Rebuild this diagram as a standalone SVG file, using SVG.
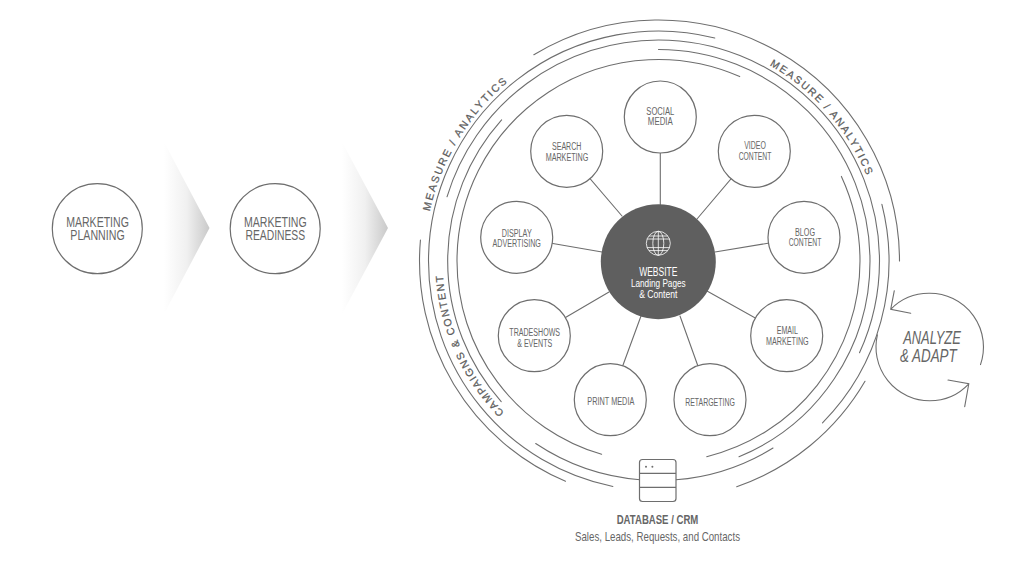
<svg xmlns="http://www.w3.org/2000/svg" width="1024" height="576" viewBox="0 0 1024 576">
<style>
text{font-family:"Liberation Sans",Arial,sans-serif;fill:#666;text-anchor:middle}
.n{fill:#fff;stroke:#6e6e6e;stroke-width:1.2}
.a{fill:none;stroke:#6e6e6e;stroke-width:1.1;stroke-linecap:round}
.s{font-size:11.5px}
.b{font-size:15px}
.c{font-size:10.5px;fill:#5c5c5c;stroke:#5c5c5c;stroke-width:.25;text-anchor:start}
.m{letter-spacing:1.95px}
.r{letter-spacing:1.75px}
.k{letter-spacing:1.5px}
.w{fill:#fff}
.g{fill:none;stroke:#fff;stroke-width:.8}
</style>
<defs>
<linearGradient id="fade" x1="0" y1="0" x2="1" y2="0"><stop offset="0" stop-color="#fff"/><stop offset=".5" stop-color="#f0f0f0"/><stop offset="1" stop-color="#c9c9c9"/></linearGradient>
<path id="p1" d="M424.5 261A234 234 0 0 1 658.5 27"/>
<path id="p2" d="M658.5 36A225 225 0 0 1 883.5 261"/>
<path id="p3" d="M658.5 477A216 216 0 0 1 442.5 261"/>
</defs>
<rect width="1024" height="576" fill="#fff"/>
<g id="chevrons">
<polygon points="164,142 209.5,228 164,314" fill="url(#fade)"/>
<polygon points="342,142 388,228 342,314" fill="url(#fade)"/>
</g>
<g id="connectors" class="a">
<path d="M533.85 54.75A241 241 0 0 1 899.5 261"/>
<path d="M714.75 38A230 230 0 0 0 428.5 261A230 230 0 0 0 612.9 486.45"/>
<path d="M420.44 240.04A239 239 0 0 0 565.5 481.2"/>
<path d="M501.6 119.9A211.5 211.5 0 0 0 501.2 401.6"/>
<path d="M739.7 76.6A201.5 201.5 0 0 0 457 261A201.5 201.5 0 0 0 601.6 454.3"/>
<path d="M447 196.8A221 221 0 0 1 658.5 40A221 221 0 0 1 879.5 261A221 221 0 0 1 859.5 352.8"/>
<path d="M658.5 49.5A211.5 211.5 0 0 1 870 261A211.5 211.5 0 0 1 739 456.7"/>
<path d="M841.4 176.4A201.5 201.5 0 0 1 860 261A201.5 201.5 0 0 1 706.7 456.7"/>
<path d="M881.9 204.4A230.5 230.5 0 0 1 822.5 422.9"/>
<path d="M865 381.3A239 239 0 0 1 736.7 486.7"/>
<path d="M535.7 443.5A219.5 219.5 0 0 0 640 479.7"/>
<path d="M676 479.8A219.5 219.5 0 0 0 773 448"/>
<path d="M660.3 117V205M566.7 151.3L622 216M516.7 237.3L602 252M754.3 151.3L697 219M804 237.3L715 252M534.3 335.7L609 292M610.3 399.7L641 316M786.7 335.7L707 291M710 399.7L680 316"/>
</g>
<g id="marketing-planning"><circle class="n" cx="97.3" cy="228.7" r="45"/><text class="b" transform="translate(97.5 226.7) scale(.7 1)" textLength="89.6" lengthAdjust="spacingAndGlyphs">MARKETING</text><text class="b" transform="translate(97.5 240) scale(.7 1)" textLength="77.6" lengthAdjust="spacingAndGlyphs">PLANNING</text></g>
<g id="marketing-readiness"><circle class="n" cx="275.2" cy="228.7" r="45"/><text class="b" transform="translate(275.3 226.7) scale(.7 1)" textLength="89.6" lengthAdjust="spacingAndGlyphs">MARKETING</text><text class="b" transform="translate(275.3 240) scale(.7 1)" textLength="85.3" lengthAdjust="spacingAndGlyphs">READINESS</text></g>
<g id="social"><circle class="n" cx="660.3" cy="117" r="36"/><text class="s" transform="translate(660.3 114.5) scale(.64 1)" textLength="43.8" lengthAdjust="spacingAndGlyphs">SOCIAL</text><text class="s" transform="translate(660.3 125.2) scale(.64 1)" textLength="39" lengthAdjust="spacingAndGlyphs">MEDIA</text></g>
<g id="search"><circle class="n" cx="566.7" cy="151.3" r="36"/><text class="s" transform="translate(566.7 150) scale(.64 1)" textLength="45.8" lengthAdjust="spacingAndGlyphs">SEARCH</text><text class="s" transform="translate(567 160.7) scale(.64 1)" textLength="66.7" lengthAdjust="spacingAndGlyphs">MARKETING</text></g>
<g id="video"><circle class="n" cx="754.3" cy="151.3" r="36"/><text class="s" transform="translate(755 149) scale(.64 1)" textLength="33.9" lengthAdjust="spacingAndGlyphs">VIDEO</text><text class="s" transform="translate(755 159.7) scale(.64 1)" textLength="51.1" lengthAdjust="spacingAndGlyphs">CONTENT</text></g>
<g id="display"><circle class="n" cx="516.7" cy="237.3" r="36"/><text class="s" transform="translate(516.7 236.7) scale(.64 1)" textLength="46.9" lengthAdjust="spacingAndGlyphs">DISPLAY</text><text class="s" transform="translate(516.7 247.3) scale(.64 1)" textLength="75.5" lengthAdjust="spacingAndGlyphs">ADVERTISING</text></g>
<g id="blog"><circle class="n" cx="804" cy="237.3" r="36"/><text class="s" transform="translate(805 235.7) scale(.64 1)" textLength="31.3" lengthAdjust="spacingAndGlyphs">BLOG</text><text class="s" transform="translate(805 246.3) scale(.64 1)" textLength="51.1" lengthAdjust="spacingAndGlyphs">CONTENT</text></g>
<g id="tradeshows"><circle class="n" cx="534.3" cy="335.7" r="36"/><text class="s" transform="translate(534.7 336) scale(.64 1)" textLength="79.2" lengthAdjust="spacingAndGlyphs">TRADESHOWS</text><text class="s" transform="translate(534.7 347) scale(.64 1)" textLength="54.7" lengthAdjust="spacingAndGlyphs">&amp; EVENTS</text></g>
<g id="email"><circle class="n" cx="786.7" cy="335.7" r="36"/><text class="s" transform="translate(787.3 334) scale(.64 1)" textLength="33.3" lengthAdjust="spacingAndGlyphs">EMAIL</text><text class="s" transform="translate(787.3 344.7) scale(.64 1)" textLength="66.7" lengthAdjust="spacingAndGlyphs">MARKETING</text></g>
<g id="print"><circle class="n" cx="610.3" cy="399.7" r="36"/><text class="s" transform="translate(610.8 405.3) scale(.64 1)" textLength="73.4" lengthAdjust="spacingAndGlyphs">PRINT MEDIA</text></g>
<g id="retargeting"><circle class="n" cx="710" cy="399.7" r="36"/><text class="s" transform="translate(710 406) scale(.64 1)" textLength="77.7" lengthAdjust="spacingAndGlyphs">RETARGETING</text></g>
<g id="website">
<circle cx="658.3" cy="261.7" r="57.5" fill="#5f5f5f"/>
<g class="g"><circle cx="658.3" cy="243.3" r="12"/><ellipse cx="658.3" cy="243.3" rx="5.5" ry="12"/><path d="M658.3 231.3V255.3M647 239H669.6M647 247.6H669.6M649 236H667.6M649 250.6H667.6"/></g>
<text class="w" transform="translate(658.3 275.7) scale(.7 1)" font-size="12.5" textLength="54.7" lengthAdjust="spacingAndGlyphs">WEBSITE</text>
<text class="w" transform="translate(658.3 287.3) scale(.8 1)" font-size="11" textLength="68.4" lengthAdjust="spacingAndGlyphs">Landing Pages</text>
<text class="w" transform="translate(658.3 298.3) scale(.8 1)" font-size="11" textLength="47.9" lengthAdjust="spacingAndGlyphs">&amp; Content</text>
</g>
<g id="database">
<rect x="639.5" y="459.5" width="36.5" height="42" rx="3" fill="#fff" stroke="#6e6e6e" stroke-width="1.2"/>
<path d="M639.5 473.3H676M639.5 487.3H676" stroke="#6e6e6e" stroke-width="1.2" fill="none"/>
<circle cx="646" cy="466.7" r="1" fill="#6e6e6e"/><circle cx="652.4" cy="466.7" r="1" fill="#6e6e6e"/>
<text transform="translate(657.5 524.3) scale(.7 1)" font-size="12.5" font-weight="bold" textLength="116.6" lengthAdjust="spacingAndGlyphs">DATABASE / CRM</text>
<text transform="translate(657.5 540.7) scale(.75 1)" font-size="12.5" textLength="220" lengthAdjust="spacingAndGlyphs">Sales, Leads, Requests, and Contacts</text>
</g>
<g id="analyze">
<path class="a" d="M980.5 364.6A53.7 53.7 0 0 0 929.7 293.3A53.7 53.7 0 0 0 890.7 309.3M894.3 290.7L890.7 309.3L910.7 313.3"/>
<path class="a" d="M877.4 334.8A53.7 53.7 0 0 0 929.7 400.7A53.7 53.7 0 0 0 968.8 383.8M948 380L968.8 383.8L964.7 406.7"/>
<text transform="translate(932 344) scale(.7 1)" font-size="18" font-style="italic" textLength="82.4" lengthAdjust="spacingAndGlyphs">ANALYZE</text>
<text transform="translate(928.3 361.7) scale(.7 1)" font-size="18" font-style="italic" textLength="81" lengthAdjust="spacingAndGlyphs">&amp; ADAPT</text>
</g>
<g id="ring-labels">
<text class="c m"><textPath href="#p1" startOffset="50">MEASURE / ANALYTICS</textPath></text>
<text class="c r"><textPath href="#p2" startOffset="116">MEASURE / ANALYTICS</textPath></text>
<text class="c k"><textPath href="#p3" startOffset="171.5">CAMPAIGNS &amp; CONTENT</textPath></text>
</g>
</svg>
